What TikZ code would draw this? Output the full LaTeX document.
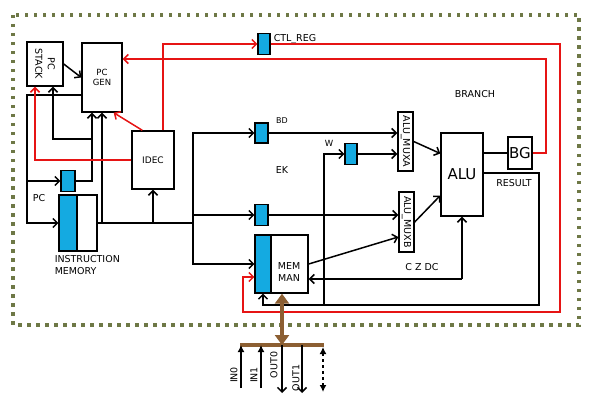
\documentclass[tikz,border=0pt]{standalone}
\usepackage{fontspec}
\setmainfont{DejaVu Sans}
\usetikzlibrary{arrows.meta,calc}
\definecolor{regblue}{RGB}{20,170,225}
\definecolor{dotgreen}{RGB}{110,120,70}
\definecolor{busbrown}{RGB}{140,95,50}
\definecolor{ctlred}{RGB}{230,20,20}
\tikzset{
  box/.style={draw, line width=1.4pt, fill=white, inner sep=0pt},
  reg/.style={draw, line width=1.2pt, fill=regblue, inner sep=0pt},
  lbl/.style={inner sep=0pt},
  ctl/.style={draw=ctlred, ->},
  bus/.style={draw=busbrown, line width=4.5pt},
  iotip/.style={-{Latex[length=7pt,width=7pt]}}
}
\begin{document}
\begin{tikzpicture}[x=1pt,y=-1pt,line width=1.5pt,>={Straight Barb[length=4.5pt,width=9pt]},font=\fontsize{9.5}{11}\selectfont]
\useasboundingbox (0,0) rectangle (596,406);
\draw[dotgreen, line width=3.5pt, dash pattern=on 3.5pt off 5.5pt] (13,15) rectangle (579,325);

\node[box, minimum width=36pt, minimum height=44pt] (pcstack) at (45,64) {};
\node[lbl, rotate=-90, align=center, font=\fontsize{9.5}{12.5}\selectfont] (pcstacklbl) at (pcstack) {PC\\STACK};
\node[box, minimum width=40pt, minimum height=69pt, align=center, font=\fontsize{8.5}{9.5}\selectfont] (pcgen) at (102,77.5) {PC\\GEN};
\node[box, minimum width=42pt, minimum height=58pt, font=\fontsize{9}{10}\selectfont] (idec) at (153,160) {IDEC};
\node[reg, minimum width=14pt, minimum height=21pt] (pcreg) at (68,181) {};
\node[box, minimum width=38pt, minimum height=56pt] (imem) at (78,223) {};
\node[reg, minimum width=18pt, minimum height=56pt] (imemb) at (68,223) {};
\node[lbl, anchor=west, align=left, font=\fontsize{9.5}{12}\selectfont] (imemlbl) at (54,265) {INSTRUCTION\\MEMORY};
\node[lbl] (pclbl) at (39,198) {PC};
\node[reg, minimum width=12pt, minimum height=21pt] (ctlreg) at (264,44) {};
\node[lbl, anchor=west] (ctllbl) at (273,39.5) {CTL\_REG};
\node[reg, minimum width=13pt, minimum height=20pt] (bdreg) at (261.5,133) {};
\node[lbl, font=\fontsize{8}{9}\selectfont] (bdlbl) at (282,121) {BD};
\node[lbl] (eklbl) at (282,170) {EK};
\node[reg, minimum width=13pt, minimum height=21pt] (midreg) at (261.5,215) {};
\node[box, minimum width=53pt, minimum height=58pt] (memman) at (281.5,264) {};
\node[reg, minimum width=16pt, minimum height=58pt] (memb) at (263,264) {};
\node[lbl, align=center, font=\fontsize{9.5}{12}\selectfont] (memlbl) at (289,272) {MEM\\MAN};
\node[reg, minimum width=12pt, minimum height=21pt] (wreg) at (351,154) {};
\node[lbl, font=\fontsize{8.5}{9}\selectfont] (wlbl) at (329,143) {W};
\node[box, minimum width=15pt, minimum height=59pt] (muxa) at (405.5,141.5) {};
\node[lbl, rotate=-90] (muxalbl) at (muxa) {ALU\_MUXA};
\node[box, minimum width=15pt, minimum height=60pt] (muxb) at (406.5,222) {};
\node[lbl, rotate=-90] (muxblbl) at (muxb) {ALU\_MUXB};
\node[box, minimum width=42pt, minimum height=83pt, font=\fontsize{15}{16}\selectfont] (alu) at (462,174.5) {ALU};
\node[box, minimum width=24pt, minimum height=32pt, font=\fontsize{15}{16}\selectfont] (bg) at (520,153) {BG};
\node[lbl] (brlbl) at (475,94) {BRANCH};
\node[lbl] (reslbl) at (514,183) {RESULT};
\node[lbl] (czlbl) at (422,267) {C Z DC};

\draw[->] (pcstack.east) -- (pcgen.west);
\coordinate (pcl) at (27,95);
\draw[->] (pcgen.west |- pcl) -- (pcl) |- (imemb.west);
\draw[->] (pcl |- pcreg) -- (pcreg.west);
\coordinate (ra) at (92,139);
\draw[->] (pcreg.east) -| (ra) -- (ra |- pcgen.south);
\draw[->] (ra) -| ($(pcstack.south)+(8,0)$);
\coordinate (ib) at (193,223);
\draw (imem.east) -- (ib);
\draw[->] (imem.east -| pcgen.south) -- (pcgen.south);
\draw[->] (imem.east -| idec.south) -- (idec.south);
\draw[->] (ib) |- (bdreg.west);
\draw[->] (ib) |- (midreg.west);
\draw[->] (ib) |- (memb.west);
\draw[->] (bdreg.east) -- (bdreg.east -| muxa.west);
\draw[->] (wreg.east) -- (wreg.east -| muxa.west);
\draw[->] (midreg.east) -- (midreg.east -| muxb.west);
\draw[->] (memman.east) -- ($(muxb.west)+(0,15)$);
\draw[->] (muxa.east) -- ($(alu.west)+(0,-21)$);
\draw[->] (muxb.east) -- ($(alu.west)+(0,21)$);
\draw (bg.west -| alu.east) -- (bg.west);
\coordinate (rs) at (539,305);
\draw[->] ($(alu.east)+(0,-1.5)$) -| (rs) -| (memb.south);
\coordinate (wl) at (324,305);
\draw[->] (wl) |- (wreg.west);
\coordinate (cz) at (462,279);
\draw[->] (cz) -- (alu.south);
\draw[->] (cz) -- (cz -| memman.east);

\coordinate (br) at (546,59);
\draw[ctl] (bg.east) -| (br) -- (br -| pcgen.east);
\draw[ctl] ($(idec.north)+(10,0)$) |- (ctlreg.west);
\coordinate (cr) at (560,312);
\coordinate (cl) at (243,277);
\draw[ctl] (ctlreg.east) -| (cr) -| (cl) -- (cl -| memb.west);
\draw[ctl] (idec.west) -| ($(pcstack.south)+(-10,0)$);
\draw[ctl] ($(idec.north west)+(11,0)$) -- ($(pcgen.south east)+(-9,0)$);

\foreach \i/\x in {0/241,1/261,2/282,3/302,4/323}
  \coordinate (io\i) at (\x,345);
\draw[bus, {Triangle[width=14pt,length=10pt]}-{Triangle[width=14pt,length=10pt]}] (memman.south -| io2) -- (io2);
\draw[bus, line width=4pt] ($(io0)+(-1,0)$) -- ($(io4)+(1,0)$);
\draw[iotip] ($(io0)+(0,43)$) -- (io0);
\draw[iotip] ($(io1)+(0,43)$) -- (io1);
\draw[->] (io2) -- ($(io2)+(0,48)$);
\draw[->] (io3) -- ($(io3)+(0,48)$);
\draw[dashed, {Latex[length=7pt,width=7pt]}-{Latex[length=7pt,width=7pt]}] ($(io4)+(0,2)$) -- ($(io4)+(0,47)$);
\node[lbl, rotate=90] (in0) at (234,375) {IN0};
\node[lbl, rotate=90] (in1) at (254,375) {IN1};
\node[lbl, rotate=90] (out0) at (274,365) {OUT0};
\node[lbl, rotate=90] (out1) at (296,378) {OUT1};
\end{tikzpicture}
\end{document}
